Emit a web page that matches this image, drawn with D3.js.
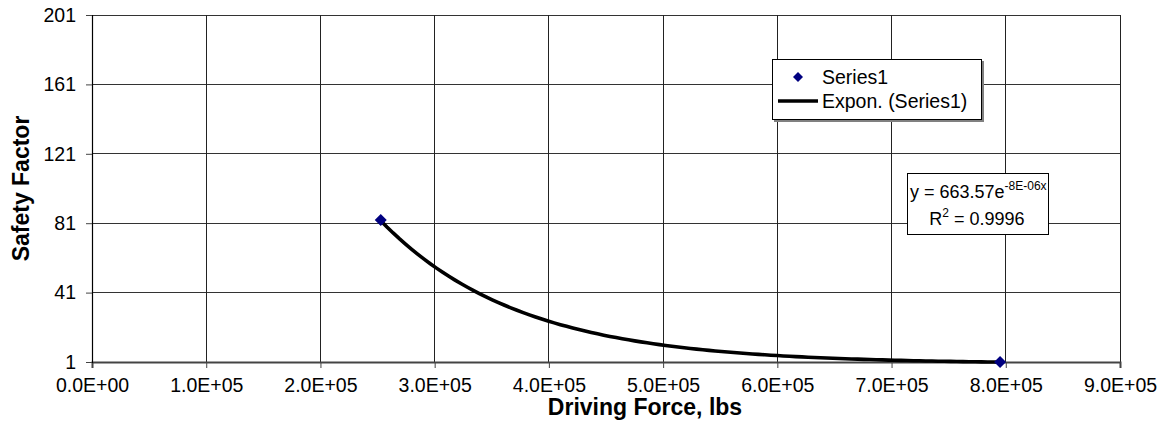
<!DOCTYPE html>
<html><head><meta charset="utf-8">
<script src="https://cdn.jsdelivr.net/npm/d3@7"></script>
<style>html,body{margin:0;padding:0;background:#fff;}svg{display:block;font-family:"Liberation Sans",Arial,sans-serif;}</style>
</head><body>
<svg id="c" width="1161" height="429"></svg>
<script>
// ---- data ----
const xValues = [252800, 795000];
const yValues = [82.8, 0.95];
const xTicks = [0, 100000, 200000, 300000, 400000, 500000, 600000, 700000, 800000, 900000];
const xTickLabels = ["0.0E+00","1.0E+05","2.0E+05","3.0E+05","4.0E+05","5.0E+05","6.0E+05","7.0E+05","8.0E+05","9.0E+05"];
const yTicks = [1, 41, 81, 121, 161, 201];
const trendA = 663.57;      // fitted coefficient
const trendB = -8.25e-6;    // fitted exponent (label shows rounded -8E-06)
const seriesName = "Series1";
const trendName = "Expon. (Series1)";
const xTitle = "Driving Force, lbs";
const yTitle = "Safety Factor";

// ---- layout ----
const L = 92, R = 1120, T = 15, B = 362;
const svg = d3.select("#c");
const x = d3.scaleLinear().domain([0, 900000]).range([L, R]);
const y = d3.scaleLinear().domain([1, 201]).range([B, T]);

// gridlines
const g = svg.append("g").attr("shape-rendering", "crispEdges");
g.selectAll("line.h").data(yTicks).join("line")
  .attr("x1", L).attr("x2", R).attr("y1", d => y(d)).attr("y2", d => y(d))
  .attr("stroke", "#333").attr("stroke-width", 1);
g.selectAll("line.v").data(xTicks).join("line")
  .attr("y1", T).attr("y2", B).attr("x1", d => x(d)).attr("x2", d => x(d))
  .attr("stroke", "#222").attr("stroke-width", 1);

// axes
const xAxis = d3.axisBottom(x).tickValues(xTicks).tickSize(6).tickPadding(10)
  .tickFormat((d, i) => xTickLabels[i]);
const gx = svg.append("g").attr("transform", `translate(0,${B})`).call(xAxis);
gx.select(".domain").attr("stroke", "#444").attr("stroke-width", 2);
gx.selectAll(".tick line").attr("stroke", "#444");
gx.selectAll("text").attr("font-size", 19.5).attr("fill", "#000")
  .attr("font-family", "Liberation Sans, Arial, sans-serif");

const yAxis = d3.axisLeft(y).tickValues(yTicks).tickSize(6).tickPadding(10);
const gy = svg.append("g").attr("transform", `translate(${L},0)`).call(yAxis);
gy.select(".domain").attr("stroke", "#000").attr("stroke-width", 1.2);
gy.selectAll(".tick line").attr("stroke", "#444");
gy.selectAll("text").attr("font-size", 19.5).attr("fill", "#000")
  .attr("font-family", "Liberation Sans, Arial, sans-serif");

// trendline
const tx = d3.range(0, 101).map(i => xValues[0] + (xValues[1] - xValues[0]) * i / 100);
const line = d3.line().x(d => x(d)).y(d => y(trendA * Math.exp(trendB * d))).curve(d3.curveLinear);
svg.append("path").datum(tx).attr("d", line).attr("fill", "none")
  .attr("stroke", "#000").attr("stroke-width", 3.6);

// markers
const diamond = "M0,-6L6,0L0,6L-6,0Z";
svg.selectAll("path.pt").data(xValues).join("path")
  .attr("d", diamond).attr("fill", "#000080")
  .attr("transform", (d, i) => `translate(${x(d)},${y(yValues[i])})`);

// axis titles
svg.append("text").attr("x", 645).attr("y", 415).attr("text-anchor", "middle")
  .attr("font-size", 23).attr("font-weight", "bold").text(xTitle);
svg.append("text").attr("transform", `translate(29,${(T + B) / 2}) rotate(-90)`)
  .attr("text-anchor", "middle").attr("font-size", 23).attr("font-weight", "bold").text(yTitle);

// legend
const lg = svg.append("g");
lg.append("rect").attr("x", 774).attr("y", 61).attr("width", 210).attr("height", 61)
  .attr("fill", "#808080");
lg.append("rect").attr("x", 772).attr("y", 59).attr("width", 209).attr("height", 60)
  .attr("fill", "#fff").attr("stroke", "#000").attr("stroke-width", 1).attr("shape-rendering", "crispEdges");
lg.append("path").attr("d", "M0,-5L5,0L0,5L-5,0Z").attr("fill", "#000080")
  .attr("transform", "translate(798,77)");
lg.append("text").attr("x", 822).attr("y", 84).attr("font-size", 19.5).text(seriesName);
lg.append("line").attr("x1", 778).attr("x2", 818).attr("y1", 101).attr("y2", 101)
  .attr("stroke", "#000").attr("stroke-width", 3.6);
lg.append("text").attr("x", 822).attr("y", 108).attr("font-size", 19.5).text(trendName);

// equation box
const eq = svg.append("g");
eq.append("rect").attr("x", 907).attr("y", 173).attr("width", 141).attr("height", 61)
  .attr("fill", "#fff").attr("stroke", "#000").attr("stroke-width", 1).attr("shape-rendering", "crispEdges");
const t1 = eq.append("text").attr("x", 910).attr("y", 198).attr("font-size", 18);
t1.append("tspan").text("y = 663.57e");
t1.append("tspan").attr("dy", -8).attr("font-size", 12).text("-8E-06x");
const t2 = eq.append("text").attr("x", 977).attr("y", 225).attr("font-size", 18).attr("text-anchor", "middle");
t2.append("tspan").text("R");
t2.append("tspan").attr("dy", -8).attr("font-size", 12).text("2");
t2.append("tspan").attr("dy", 8).text(" = 0.9996");
</script>
</body></html>
